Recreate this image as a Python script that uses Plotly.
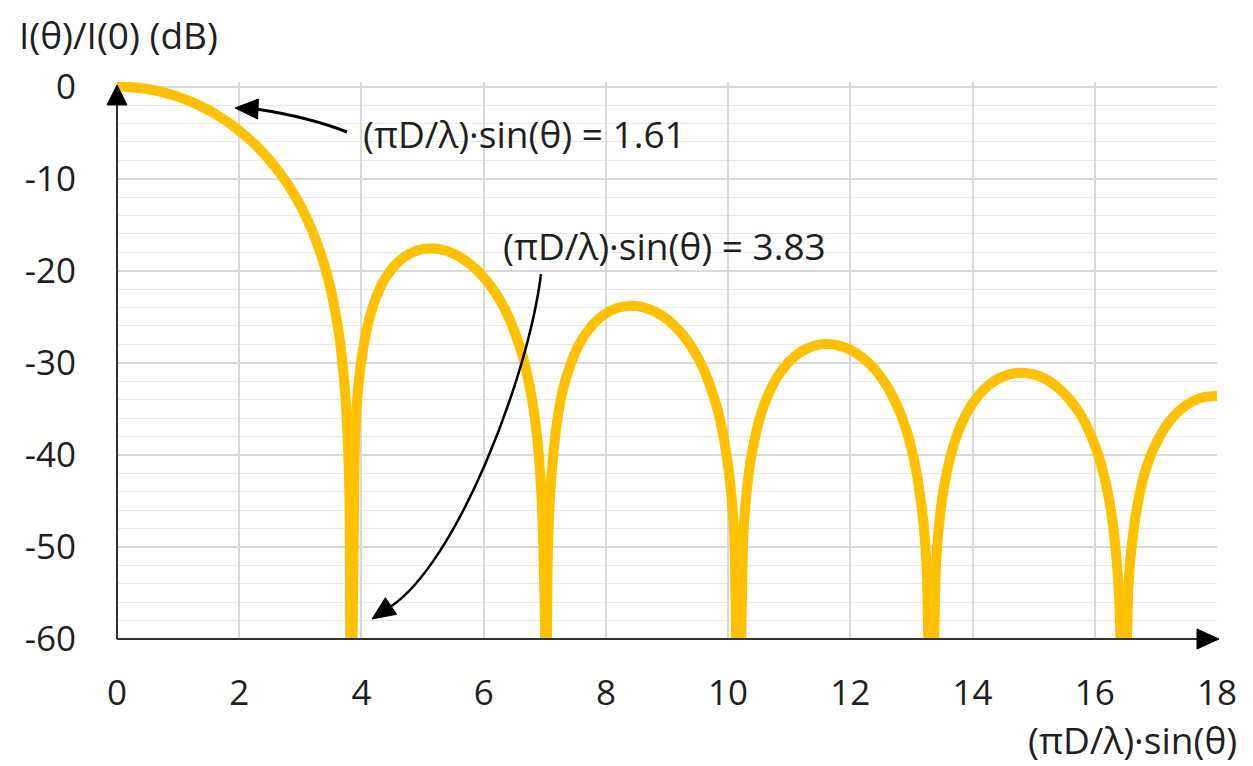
import plotly.graph_objects as go

# ---- data ----
x_vals = [0, 0.2, 0.4, 0.6, 0.8, 1.0, 1.2, 1.4, 1.6, 1.8, 2.0, 2.2, 2.4, 2.6, 2.8, 3.0,
          3.2, 3.4, 3.5, 3.6, 3.65, 3.7, 3.75, 3.8, 3.83, 3.9, 3.95, 4.0, 4.1, 4.2, 4.3,
          4.4, 4.6, 4.8, 5.0, 5.2, 5.4, 5.6, 5.8, 6.0, 6.2, 6.4, 6.6, 6.7, 6.8, 6.85,
          6.9, 6.95, 7.0, 7.02, 7.05, 7.1, 7.2, 7.3, 7.4, 7.5, 7.6, 7.8,
          8.0, 8.2, 8.4, 8.6, 8.8, 9.0, 9.2, 9.4, 9.6, 9.8, 9.9, 10.0, 10.05, 10.1, 10.17,
          10.25, 10.3, 10.35, 10.4, 10.5, 10.6, 10.8, 11.0, 11.2, 11.4, 11.6, 11.8, 12.0,
          12.2, 12.4, 12.6, 12.8, 12.9, 13.0, 13.1, 13.2, 13.25, 13.32, 13.4, 13.45, 13.5,
          13.6, 13.7, 13.8, 14.0, 14.2, 14.4, 14.6, 14.8, 15.0, 15.2, 15.4, 15.6, 15.8,
          16.0, 16.1, 16.2, 16.3, 16.4, 16.47, 16.55, 16.6, 16.7, 16.8, 16.9, 17.0, 17.2,
          17.4, 17.6, 17.8, 18.0]
y_db = [0, -0.04, -0.18, -0.39, -0.71, -1.11, -1.61, -2.22, -2.95, -3.79, -4.78, -5.93,
        -7.26, -8.82, -10.67, -12.92, -15.74, -19.54, -22.10, -25.51, -27.74, -30.73,
        -35.01, -43.4, -75, -37.27, -32.47, -29.63, -26.0, -23.61, -21.94,
        -20.71, -19.05, -18.11, -17.65, -17.59, -17.86, -18.46, -19.39, -20.70, -22.48,
        -24.92, -28.43, -30.92, -34.34, -36.66,
        -39.88, -44.9, -57.4, -75, -50.7, -43.05, -36.43, -32.8, -30.57, -28.86, -27.56,
        -25.74, -24.63, -24.02, -23.81, -23.95, -24.43, -25.27, -26.51, -28.26, -30.73,
        -34.45, -37.19, -41.21, -44.2, -48.68, -75,
        -48.6, -44.24, -41.4, -39.43, -36.47, -34.38, -31.59, -29.86, -28.78, -28.17,
        -27.96, -28.11, -28.58,
        -29.43, -30.71, -32.54, -35.19, -36.98, -39.32, -42.56, -47.73, -52.3, -75,
        -52.12, -47.74, -44.88,
        -41.23, -38.75, -36.92, -34.40, -32.80, -31.80, -31.25, -31.08, -31.26, -31.79,
        -32.71, -34.07, -36.01,
        -38.94, -40.97, -43.68, -47.72, -55.54, -75, -54.44, -50.15, -45.35, -42.36,
        -40.32, -38.79, -36.54,
        -35.09, -34.19, -33.71, -33.60]

x_ticks = [0, 2, 4, 6, 8, 10, 12, 14, 16, 18]
y_ticks = [0, -10, -20, -30, -40, -50, -60]

y_title = "I(θ)/I(0) (dB)"
x_title = "(πD/λ)·sin(θ)"
note1 = "(πD/λ)·sin(θ) = 1.61"
note2 = "(πD/λ)·sin(θ) = 3.83"

# ---- layout geometry (page pixels; page body has an 8px margin) ----
OFF = 8
W, H = 1253 - OFF, 766 - OFF
PL, PR, PT, PB = 117, 1217, 82, 639       # plot area in page pixels
FONT = "Open Sans"
TXT = "#1f1f1f"
TICK_SIZE = 35
TEXT_SIZE = 37


def fx(p):
    return (p - PL) / (PR - PL)


def fy(p):
    return (PB - p) / (PB - PT)


def pt(p):
    return f"{fx(p[0]):.5f},{fy(p[1]):.5f}"


def triangle(tip, base, half):
    dx, dy = tip[0] - base[0], tip[1] - base[1]
    n = (dx * dx + dy * dy) ** 0.5
    px_, py_ = -dy / n * half, dx / n * half
    a = (base[0] + px_, base[1] + py_)
    b = (base[0] - px_, base[1] - py_)
    return dict(type="path", xref="paper", yref="paper",
                path=f"M {pt(tip)} L {pt(a)} L {pt(b)} Z",
                fillcolor="black", line=dict(color="black", width=1))


fig = go.Figure()
fig.add_trace(go.Scatter(x=x_vals, y=y_db, mode="lines",
                         line=dict(color="#FFC000", width=10, shape="spline", smoothing=0.8),
                         hoverinfo="skip", showlegend=False))

shapes = []
# axes with arrows
shapes.append(dict(type="line", xref="paper", yref="paper",
                   x0=fx(PL), y0=fy(PB), x1=fx(PL), y1=fy(100),
                   line=dict(color="#333333", width=2)))
shapes.append(dict(type="line", xref="paper", yref="paper",
                   x0=fx(PL), y0=fy(PB), x1=fx(1200), y1=fy(PB),
                   line=dict(color="#333333", width=2)))
shapes.append(triangle((117, 85), (117, 105), 10))
shapes.append(triangle((1219, 639), (1197, 639), 10))

# curved arrow 1
shapes.append(dict(type="path", xref="paper", yref="paper",
                   path=f"M {pt((347,132))} Q {pt((309,117))} {pt((256,109))}",
                   line=dict(color="black", width=3)))
shapes.append(triangle((235, 108), (258, 109), 10))
# curved arrow 2
shapes.append(dict(type="path", xref="paper", yref="paper",
                   path=f"M {pt((541,274))} C {pt((528,380))} {pt((455,565))} {pt((390,607))}",
                   line=dict(color="black", width=2.5)))
shapes.append(triangle((372, 619), (391, 606), 10))

annotations = [
    dict(text=y_title, xref="paper", yref="paper", x=fx(17), y=fy(34),
         xanchor="left", yanchor="middle", showarrow=False,
         font=dict(family=FONT, size=TEXT_SIZE, color=TXT)),
    dict(text=x_title, xref="paper", yref="paper", x=fx(1239), y=fy(739),
         xanchor="right", yanchor="middle", showarrow=False,
         font=dict(family=FONT, size=TEXT_SIZE, color=TXT)),
    dict(text=note1, xref="paper", yref="paper", x=fx(361), y=fy(134),
         xanchor="left", yanchor="middle", showarrow=False,
         font=dict(family=FONT, size=TEXT_SIZE, color=TXT)),
    dict(text=note2, xref="paper", yref="paper", x=fx(501), y=fy(245),
         xanchor="left", yanchor="middle", showarrow=False,
         font=dict(family=FONT, size=TEXT_SIZE, color=TXT)),
]

fig.update_layout(
    width=W, height=H,
    margin=dict(l=PL - OFF, r=1253 - PR, t=PT - OFF, b=766 - PB, pad=0),
    paper_bgcolor="white", plot_bgcolor="white",
    font=dict(family=FONT, size=TICK_SIZE, color=TXT),
    shapes=shapes, annotations=annotations,
    xaxis=dict(range=[0, 18], tickvals=x_ticks,
               ticktext=[str(v) for v in x_ticks],
               showgrid=True, gridcolor="#d9d9d9", gridwidth=1.5,
               zeroline=False, showline=False, ticks="",
               ticklabelstandoff=30, tickfont=dict(family=FONT, size=TICK_SIZE, color=TXT)),
    yaxis=dict(range=[-60, 0.5], tickvals=y_ticks,
               ticktext=[str(v) for v in y_ticks],
               showgrid=True, gridcolor="#d9d9d9", gridwidth=1.5,
               minor=dict(dtick=2, tick0=0, showgrid=True, gridcolor="#e9e9e9", gridwidth=1),
               zeroline=False, showline=False, ticks="",
               ticklabelstandoff=40, tickfont=dict(family=FONT, size=TICK_SIZE, color=TXT)),
)

fig.write_html("out.html")
